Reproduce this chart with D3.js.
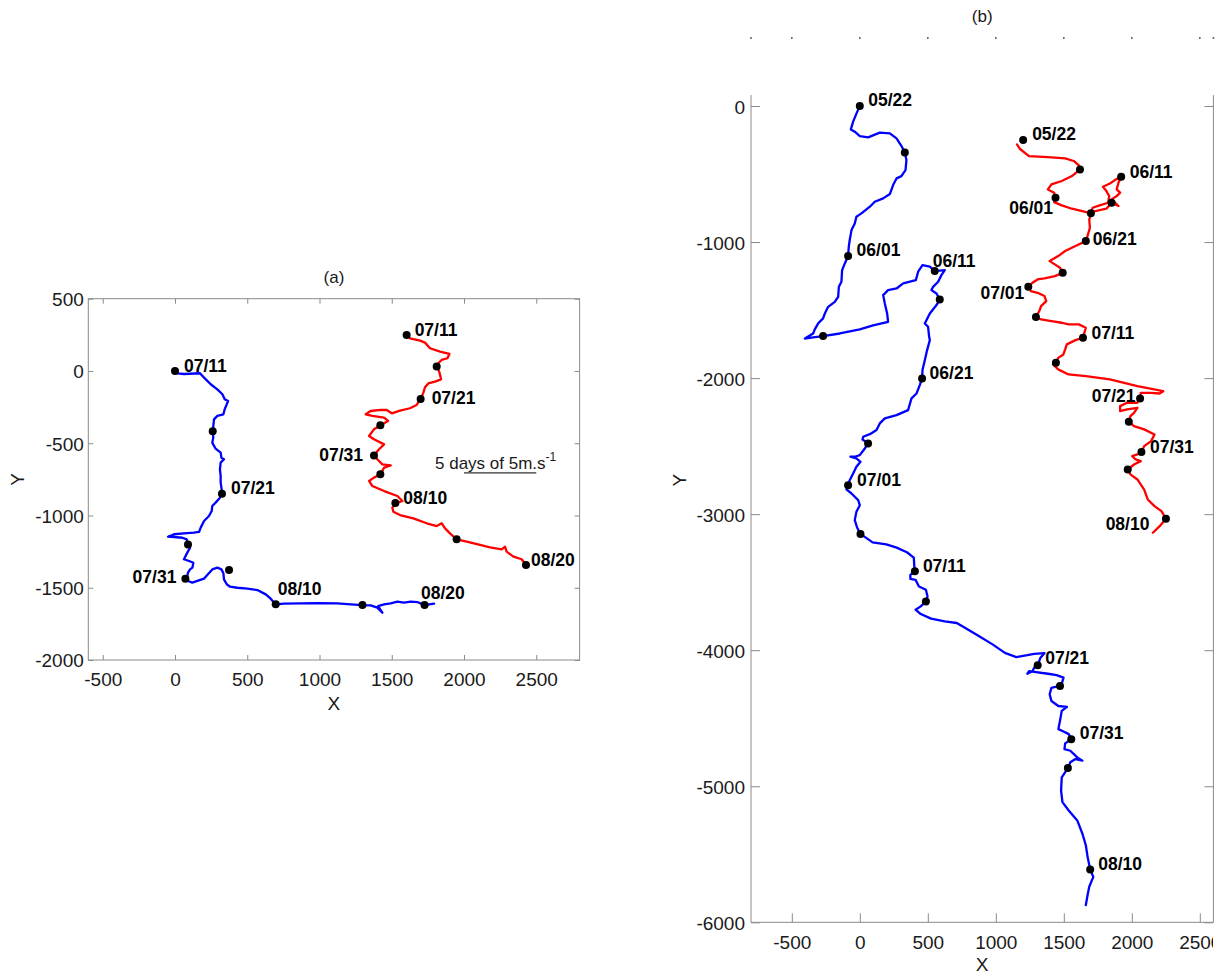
<!DOCTYPE html>
<html><head><meta charset="utf-8">
<script src="https://cdn.jsdelivr.net/npm/d3@7"></script>
<style>
body{margin:0;background:#fff;}
svg{display:block;}
text{font-family:"Liberation Sans",Arial,Helvetica,sans-serif;}
</style></head>
<body>
<svg id="chart" width="1228" height="974"></svg>
<script>
// ---------------- DATA ----------------
const xTicksA = [-500,0,500,1000,1500,2000,2500];
const yTicksA = [500,0,-500,-1000,-1500,-2000];
const xTicksB = [-500,0,500,1000,1500,2000,2500];
const yTicksB = [0,-1000,-2000,-3000,-4000,-5000,-6000];

// Panel (a) blue track
const trackA_blue = [[0,0],[16,-16],[62,-21],[173,-16],[201,-46],[247,-92],[293,-127],[328,-161],[344,-196],[367,-208],[358,-231],[344,-265],[335,-300],[293,-311],[270,-335],[265,-381],[261,-418],[265,-461],[258,-496],[281,-538],[316,-565],[321,-600],[339,-611],[316,-634],[311,-681],[316,-727],[316,-773],[323,-819],[325,-849],[311,-877],[281,-911],[258,-934],[254,-969],[235,-1004],[201,-1038],[178,-1084],[166,-1114],[131,-1119],[62,-1124],[-7,-1130],[-48,-1147],[-7,-1149],[51,-1154],[81,-1165],[90,-1200],[104,-1223],[85,-1257],[62,-1303],[97,-1315],[127,-1327],[120,-1361],[104,-1373],[90,-1396],[85,-1419],[72,-1437],[90,-1453],[120,-1465],[155,-1453],[201,-1437],[228,-1407],[258,-1373],[293,-1361],[321,-1373],[335,-1400],[339,-1442],[358,-1476],[381,-1493],[431,-1500],[501,-1506],[570,-1516],[628,-1546],[662,-1576],[697,-1615],[754,-1610],[870,-1608],[985,-1606],[1124,-1608],[1216,-1615],[1297,-1620],[1354,-1622],[1400,-1638],[1435,-1673],[1405,-1627],[1447,-1615],[1493,-1608],[1539,-1596],[1585,-1603],[1631,-1596],[1680,-1600],[1727,-1620],[1793,-1610]];
const dotsA_blue = [[0,0],[261,-418],[325,-849],[90,-1200],[72,-1437],[374,-1377],[697,-1615],[1297,-1620],[1727,-1620]];
const datesA_blue = ["07/11","","07/21","","07/31","","08/10","","08/20"];

// Panel (a) red track
const trackA_red = [[1603,249],[1626,226],[1696,210],[1730,196],[1765,157],[1834,134],[1899,118],[1885,88],[1845,76],[1822,53],[1811,30],[1829,-5],[1841,-58],[1799,-74],[1753,-86],[1730,-113],[1719,-150],[1700,-194],[1672,-235],[1626,-258],[1557,-275],[1500,-293],[1465,-270],[1423,-270],[1354,-277],[1320,-300],[1366,-311],[1447,-323],[1474,-346],[1423,-376],[1377,-404],[1343,-450],[1377,-473],[1447,-508],[1412,-542],[1377,-584],[1400,-611],[1435,-646],[1493,-653],[1447,-669],[1423,-715],[1377,-738],[1343,-761],[1366,-796],[1447,-831],[1539,-865],[1574,-900],[1527,-916],[1504,-946],[1511,-974],[1557,-997],[1649,-1020],[1742,-1054],[1811,-1073],[1846,-1054],[1869,-1089],[1903,-1124],[1949,-1165],[2019,-1181],[2111,-1204],[2180,-1220],[2261,-1234],[2284,-1216],[2295,-1250],[2342,-1285],[2399,-1303],[2429,-1343]];
const dotsA_red = [[1603,249],[1811,30],[1700,-194],[1421,-375],[1377,-585],[1421,-715],[1525,-913],[1949,-1165],[2429,-1343]];
const datesA_red = ["07/11","","07/21","","07/31","","08/10","","08/20"];

// Panel (b) blue track
const trackB_blue = [[0,0],[-24,-54],[-49,-115],[-66,-172],[-37,-189],[0,-221],[61,-230],[147,-196],[221,-201],[270,-238],[302,-287],[331,-341],[343,-397],[336,-471],[306,-515],[270,-532],[245,-581],[221,-647],[172,-679],[110,-704],[74,-740],[12,-789],[-25,-814],[-37,-863],[-61,-912],[-74,-985],[-81,-1034],[-86,-1103],[-110,-1157],[-130,-1206],[-135,-1292],[-154,-1329],[-159,-1402],[-184,-1439],[-233,-1476],[-257,-1525],[-270,-1561],[-306,-1598],[-331,-1642],[-343,-1672],[-404,-1709],[-343,-1701],[-270,-1691],[-147,-1672],[0,-1642],[98,-1613],[208,-1586],[201,-1525],[184,-1451],[172,-1390],[208,-1353],[270,-1341],[319,-1304],[412,-1280],[429,-1218],[461,-1169],[515,-1181],[551,-1213],[625,-1206],[600,-1243],[576,-1292],[539,-1329],[527,-1353],[564,-1378],[588,-1422],[564,-1463],[515,-1525],[490,-1574],[478,-1598],[502,-1623],[510,-1696],[515,-1721],[495,-1794],[478,-1868],[461,-1941],[458,-2002],[441,-2051],[417,-2113],[380,-2149],[355,-2235],[270,-2272],[184,-2296],[147,-2333],[123,-2382],[74,-2412],[25,-2431],[20,-2451],[61,-2480],[37,-2517],[0,-2566],[-37,-2578],[-69,-2578],[-25,-2590],[5,-2615],[-25,-2652],[-49,-2701],[-74,-2750],[-86,-2787],[-98,-2818],[-61,-2848],[-12,-2897],[0,-2934],[-25,-2983],[-37,-3044],[-20,-3098],[5,-3145],[94,-3207],[195,-3222],[271,-3246],[346,-3280],[397,-3320],[402,-3398],[405,-3420],[372,-3446],[372,-3476],[410,-3483],[435,-3532],[486,-3556],[498,-3605],[486,-3642],[448,-3678],[410,-3702],[448,-3734],[524,-3768],[625,-3788],[713,-3800],[776,-3837],[878,-3898],[979,-3959],[1067,-4020],[1151,-4051],[1232,-4037],[1282,-4027],[1358,-4022],[1328,-4056],[1308,-4110],[1282,-4129],[1270,-4154],[1232,-4173],[1245,-4154],[1282,-4159],[1384,-4173],[1447,-4183],[1498,-4202],[1485,-4246],[1472,-4263],[1409,-4276],[1396,-4324],[1409,-4373],[1460,-4410],[1523,-4417],[1485,-4446],[1472,-4519],[1460,-4580],[1498,-4598],[1536,-4617],[1555,-4654],[1510,-4685],[1505,-4727],[1548,-4739],[1599,-4788],[1637,-4812],[1586,-4800],[1548,-4824],[1530,-4866],[1485,-4934],[1480,-5032],[1490,-5117],[1536,-5178],[1599,-5251],[1637,-5349],[1662,-5434],[1675,-5519],[1694,-5612],[1717,-5666],[1687,-5739],[1675,-5800],[1662,-5873]];
const dotsB_blue = [[0,0],[331,-341],[-86,-1103],[-270,-1691],[551,-1213],[588,-1422],[458,-2002],[61,-2480],[-86,-2787],[5,-3145],[405,-3420],[486,-3642],[1308,-4110],[1472,-4263],[1555,-4654],[1530,-4866],[1694,-5612]];
const datesB_blue = ["05/22","","06/01","","06/11","","06/21","","07/01","","07/11","","07/21","","07/31","","08/10"];

// Panel (b) red track
const trackB_red = [[1156,-282],[1176,-314],[1244,-368],[1383,-375],[1510,-385],[1573,-404],[1611,-436],[1619,-466],[1560,-515],[1485,-551],[1409,-576],[1383,-613],[1429,-637],[1439,-674],[1429,-706],[1485,-730],[1560,-755],[1636,-772],[1699,-789],[1712,-748],[1763,-730],[1826,-711],[1834,-662],[1813,-625],[1788,-593],[1839,-569],[1884,-539],[1922,-520],[1902,-564],[1889,-613],[1914,-637],[1889,-662],[1851,-686],[1902,-735],[1851,-711],[1813,-755],[1763,-765],[1707,-779],[1687,-833],[1692,-895],[1674,-956],[1662,-993],[1586,-1029],[1510,-1066],[1459,-1103],[1396,-1140],[1434,-1164],[1472,-1189],[1492,-1226],[1434,-1250],[1358,-1267],[1307,-1275],[1270,-1299],[1239,-1328],[1257,-1360],[1307,-1373],[1358,-1397],[1371,-1434],[1333,-1471],[1320,-1507],[1295,-1551],[1333,-1569],[1409,-1581],[1485,-1593],[1535,-1605],[1611,-1605],[1662,-1630],[1641,-1703],[1586,-1721],[1522,-1752],[1510,-1789],[1497,-1826],[1459,-1851],[1442,-1887],[1421,-1900],[1459,-1936],[1535,-1973],[1662,-1985],[1839,-2010],[2041,-2059],[2193,-2088],[2231,-2096],[2205,-2113],[2142,-2108],[2066,-2108],[2061,-2150],[2041,-2181],[1965,-2181],[1914,-2206],[1914,-2243],[1965,-2230],[2041,-2218],[2016,-2255],[1990,-2279],[1978,-2321],[2016,-2353],[2091,-2377],[2167,-2414],[2142,-2463],[2091,-2500],[2071,-2544],[2041,-2561],[2003,-2574],[2028,-2598],[2066,-2610],[2016,-2635],[1970,-2672],[1990,-2708],[2041,-2745],[2091,-2819],[2117,-2892],[2167,-2941],[2218,-2978],[2251,-3034],[2205,-3088],[2155,-3137]];
const dotsB_red = [[1201,-250],[1619,-466],[1439,-674],[1699,-789],[1922,-520],[1851,-711],[1662,-993],[1492,-1226],[1239,-1328],[1295,-1551],[1641,-1703],[1442,-1887],[2061,-2150],[1978,-2321],[2071,-2544],[1970,-2672],[2251,-3034]];
const datesB_red = ["05/22","","06/01","","06/11","","06/21","","07/01","","07/11","","07/21","","07/31","","08/10"];

// scale bar annotation (panel a)
const scaleBarX = [2000,2500];
const scaleBarY = -705;
const scaleText = "5 days of 5m.s";

// ---------------- LAYOUT (label placement: [dx, dy, anchor]) ----------------
const lblA_blue = {"07/11":[9,1,"start"],"07/21":[9,0,"start"],"07/31":[-9,4,"end"],"08/10":[2,-9,"start"],"08/20":[-3.5,-6,"start"]};
const lblA_red = {"07/11":[8,1,"start"],"07/21":[11,5,"start"],"07/31":[-11,5,"end"],"08/10":[8,1,"start"],"08/20":[5,1,"start"]};
const lblB_blue = {"05/22":[8.5,0,"start"],"06/01":[8.5,0,"start"],"06/11":[-2,-4,"start"],"06/21":[7.5,1,"start"],"07/01":[9,1,"start"],"07/11":[8,1,"start"],"07/21":[7.5,-1,"start"],"07/31":[8.5,0,"start"],"08/10":[8,0,"start"]};
const lblB_red = {"05/22":[9,0,"start"],"06/01":[-2.5,16,"end"],"06/11":[8.5,1,"start"],"06/21":[7,4,"start"],"07/01":[-4,12.5,"end"],"07/11":[8.5,1,"start"],"07/21":[-4.5,3.5,"end"],"07/31":[8.5,1,"start"],"08/10":[-16.5,11,"end"]};

const svg = d3.select("#chart");
const frameCol = "#8a8a8a";
const tickFont = 19;
const fmt = d => String(d);

// ---------------- PANEL A ----------------
const xA = d3.scaleLinear().domain([-600,2800]).range([88.3,579.6]);
const yA = d3.scaleLinear().domain([-2000,500]).range([660,298.7]);
const gA = svg.append("g");

function styleAxis(g){
  g.select(".domain").remove();
  g.selectAll(".tick line").attr("stroke",frameCol).attr("stroke-width",1);
  g.selectAll(".tick text").attr("fill","#1a1a1a").attr("font-size",tickFont)
    .attr("font-family","'Liberation Sans',Arial,sans-serif");
}
gA.append("g").attr("transform",`translate(0,${yA(-2000)})`)
  .call(d3.axisBottom(xA).tickValues(xTicksA).tickSizeInner(-5).tickSizeOuter(0).tickFormat(fmt))
  .call(styleAxis).call(g=>g.selectAll(".tick text").attr("y",26).attr("dy",0));
gA.append("g").attr("transform",`translate(0,${yA(500)})`)
  .call(d3.axisTop(xA).tickValues(xTicksA).tickSizeInner(-5).tickSizeOuter(0).tickFormat(""))
  .call(styleAxis);
gA.append("g").attr("transform",`translate(${xA(-600)},0)`)
  .call(d3.axisLeft(yA).tickValues(yTicksA).tickSizeInner(-5).tickSizeOuter(0).tickFormat(fmt))
  .call(styleAxis).call(g=>g.selectAll(".tick text").attr("x",-4.5).attr("dy","0.36em"));
gA.append("g").attr("transform",`translate(${xA(2800)},0)`)
  .call(d3.axisRight(yA).tickValues(yTicksA).tickSizeInner(-5).tickSizeOuter(0).tickFormat(""))
  .call(styleAxis);
gA.append("rect").attr("x",xA(-600)).attr("y",yA(500))
  .attr("width",xA(2800)-xA(-600)).attr("height",yA(-2000)-yA(500))
  .attr("fill","none").attr("stroke",frameCol).attr("stroke-width",1);

const line = (xs,ys)=>d3.line().x(d=>xs(d[0])).y(d=>ys(d[1])).curve(d3.curveLinear);

function drawTrack(g,xs,ys,track,dots,dates,lbl,color){
  g.append("path").datum(track).attr("d",line(xs,ys)).attr("fill","none")
    .attr("stroke",color).attr("stroke-width",2.3).attr("stroke-linejoin","round").attr("stroke-linecap","round");
  g.selectAll(null).data(dots).enter().append("circle")
    .attr("cx",d=>xs(d[0])).attr("cy",d=>ys(d[1])).attr("r",4).attr("fill","#000");
  dots.forEach((d,i)=>{
    const t = dates[i]; if(!t) return;
    const o = lbl[t] || [8,0,"start"];
    g.append("text").attr("x",xs(d[0])+o[0]).attr("y",ys(d[1])+o[1])
      .attr("text-anchor",o[2]).attr("font-size",17.5).attr("font-weight","bold").attr("fill","#000").text(t);
  });
}
drawTrack(gA,xA,yA,trackA_blue,dotsA_blue,datesA_blue,lblA_blue,"#0000ff");
drawTrack(gA,xA,yA,trackA_red,dotsA_red,datesA_red,lblA_red,"#ff0000");

gA.append("line").attr("x1",xA(scaleBarX[0])).attr("x2",xA(scaleBarX[1]))
  .attr("y1",yA(scaleBarY)).attr("y2",yA(scaleBarY)).attr("stroke","#333").attr("stroke-width",1.2);
const st = gA.append("text").attr("x",435).attr("y",469).attr("font-size",17).attr("fill","#1a1a1a");
st.append("tspan").text(scaleText);
st.append("tspan").attr("dy",-8).attr("font-size",12).text("-1");

gA.append("text").attr("x",(xA(-600)+xA(2800))/2).attr("y",283).attr("text-anchor","middle")
  .attr("font-size",17).attr("fill","#1a1a1a").text("(a)");
gA.append("text").attr("x",(xA(-600)+xA(2800))/2).attr("y",710).attr("text-anchor","middle")
  .attr("font-size",19).attr("fill","#1a1a1a").text("X");
gA.append("text").attr("transform",`translate(24,${(yA(500)+yA(-2000))/2}) rotate(-90)`).attr("text-anchor","middle")
  .attr("font-size",19).attr("fill","#1a1a1a").text("Y");

// ---------------- PANEL B ----------------
const xB = d3.scaleLinear().domain([-800,2600]).range([751,1213.4]);
const yB = d3.scaleLinear().domain([-6000,500]).range([922.3,38]);
const gB = svg.append("g");
svg.append("defs").append("clipPath").attr("id","clipB").append("rect")
  .attr("x",0).attr("y",0).attr("width",1213).attr("height",974);

gB.append("g").attr("clip-path","url(#clipB)").append("g").attr("transform",`translate(0,${yB(-6000)})`)
  .call(d3.axisBottom(xB).tickValues(xTicksB).tickSizeInner(-9).tickSizeOuter(0).tickFormat(fmt))
  .call(styleAxis).call(g=>g.selectAll(".tick text").attr("y",27).attr("dy",0));
gB.append("g").attr("transform",`translate(${xB(-800)},0)`)
  .call(d3.axisLeft(yB).tickValues(yTicksB).tickSizeInner(-9).tickSizeOuter(0).tickFormat(fmt))
  .call(styleAxis).call(g=>g.selectAll(".tick text").attr("x",-6).attr("dy","0.4em"));
gB.append("g").attr("transform",`translate(${xB(2600)},0)`)
  .call(d3.axisRight(yB).tickValues(yTicksB).tickSizeInner(-9).tickSizeOuter(0).tickFormat(""))
  .call(styleAxis);
const frameTopY = yB(80);
gB.append("line").attr("x1",xB(-800)).attr("x2",xB(-800)).attr("y1",frameTopY).attr("y2",yB(-6000)).attr("stroke",frameCol);
gB.append("line").attr("x1",xB(2600)).attr("x2",xB(2600)).attr("y1",frameTopY).attr("y2",yB(-6000)).attr("stroke",frameCol);
gB.append("line").attr("x1",xB(-800)).attr("x2",xB(2600)).attr("y1",yB(-6000)).attr("y2",yB(-6000)).attr("stroke",frameCol);
gB.selectAll(null).data([-800].concat(xTicksB).concat([2600])).enter().append("rect")
  .attr("x",d=>xB(d)-0.8).attr("y",yB(500)-0.8).attr("width",1.6).attr("height",1.6).attr("fill","#444");

drawTrack(gB,xB,yB,trackB_blue,dotsB_blue,datesB_blue,lblB_blue,"#0000ff");
drawTrack(gB,xB,yB,trackB_red,dotsB_red,datesB_red,lblB_red,"#ff0000");

gB.append("text").attr("x",(xB(-800)+xB(2600))/2).attr("y",22).attr("text-anchor","middle")
  .attr("font-size",17).attr("fill","#1a1a1a").text("(b)");
gB.append("text").attr("x",(xB(-800)+xB(2600))/2).attr("y",971).attr("text-anchor","middle")
  .attr("font-size",19).attr("fill","#1a1a1a").text("X");
gB.append("text").attr("transform",`translate(686,${(yB(500)+yB(-6000))/2}) rotate(-90)`).attr("text-anchor","middle")
  .attr("font-size",19).attr("fill","#1a1a1a").text("Y");
</script>
</body></html>
